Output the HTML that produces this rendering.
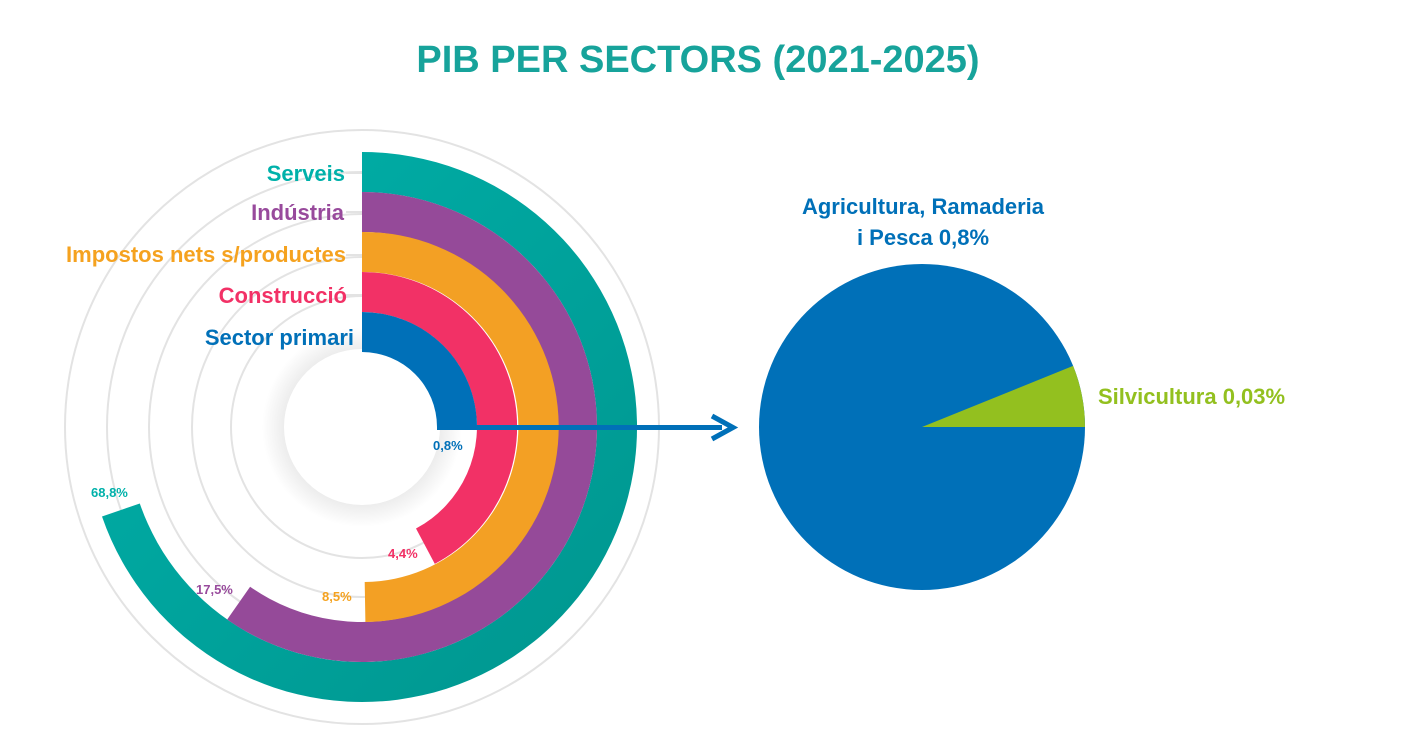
<!DOCTYPE html>
<html><head><meta charset="utf-8"><style>
body{margin:0;background:#fff;width:1411px;height:736px;overflow:hidden}
svg{display:block}
text{font-family:"Liberation Sans",sans-serif;font-weight:bold}
</style></head><body>
<svg width="1411" height="736" viewBox="0 0 1411 736">
<defs>
<radialGradient id="sh" cx="362" cy="427" r="100" gradientUnits="userSpaceOnUse">
<stop offset="0.7" stop-color="#e6e6e6"/><stop offset="1" stop-color="#fff"/></radialGradient>
<linearGradient id="tg" x1="0" y1="0" x2="1" y2="1"><stop offset="0" stop-color="#00b1aa"/><stop offset="1" stop-color="#00958e"/></linearGradient>
</defs>
<text x="698" y="72" text-anchor="middle" font-size="38" fill="#17a39b">PIB PER SECTORS  (2021-2025)</text>
<g fill="none" stroke="#e3e3e3" stroke-width="2">
<circle cx="362" cy="427" r="93"/><circle cx="362" cy="427" r="131"/><circle cx="362" cy="427" r="170"/>
<circle cx="362" cy="427" r="213"/><circle cx="362" cy="427" r="255"/><circle cx="362" cy="427" r="297"/>
</g>
<circle cx="362" cy="427" r="100" fill="url(#sh)"/>
<circle cx="362" cy="427" r="78" fill="#fff"/>
<g stroke="#e3e3e3" stroke-width="2">
<line x1="346" y1="173" x2="362" y2="173"/><line x1="346" y1="212" x2="362" y2="212"/>
<line x1="346" y1="255" x2="362" y2="255"/><line x1="346" y1="295" x2="362" y2="295"/>
</g>
<path d="M362,152 A275,275 0 1 1 102,516.5 L139.8,503.5 A235,235 0 1 0 362,192 Z" fill="url(#tg)"/>
<path d="M362,192 A235,235 0 1 1 227.2,619.5 L250.1,586.7 A195,195 0 1 0 362,232 Z" fill="#954a99"/>
<path d="M362,232 A195,195 0 0 1 365.4,622 L364.7,582 A155,155 0 0 0 362,272 Z" fill="#f3a024"/>
<path d="M362,272 A155,155 0 0 1 434.8,563.9 L416,528.5 A115,115 0 0 0 362,312 Z" fill="#f23166"/>
<path d="M362,312 A115,115 0 0 1 477,427 L437,427 A75,75 0 0 0 362,352 Z" fill="#0070b8"/>
<g text-anchor="end" font-size="22">
<text x="345" y="181" fill="#00b1aa">Serveis</text>
<text x="344" y="220" fill="#984a9c">Indústria</text>
<text x="346" y="262" fill="#f5a21f">Impostos nets s/productes</text>
<text x="347" y="303" fill="#f23166">Construcció</text>
<text x="354" y="345" fill="#0070b8">Sector primari</text>
</g>
<g font-size="13">
<text x="433" y="450" fill="#0070b8">0,8%</text>
<text x="91" y="497" fill="#00b1aa">68,8%</text>
<text x="196" y="594" fill="#984a9c">17,5%</text>
<text x="322" y="601" fill="#f5a21f">8,5%</text>
<text x="388" y="558" fill="#f23166">4,4%</text>
</g>
<rect x="437" y="425" width="285" height="5" fill="#0070b8"/>
<path d="M712,416 L733,427.5 L712,439" fill="none" stroke="#0070b8" stroke-width="5"/>
<circle cx="922" cy="427" r="163" fill="#0070b8"/>
<path d="M922,427 L1085,427 A163,163 0 0 0 1073.1,365.9 Z" fill="#93c01f"/>
<g font-size="22" text-anchor="middle" fill="#0070b8">
<text x="923" y="214">Agricultura, Ramaderia</text>
<text x="923" y="245">i Pesca 0,8%</text>
</g>
<text x="1098" y="404" font-size="22" fill="#93c01f">Silvicultura 0,03%</text>
</svg>
</body></html>
